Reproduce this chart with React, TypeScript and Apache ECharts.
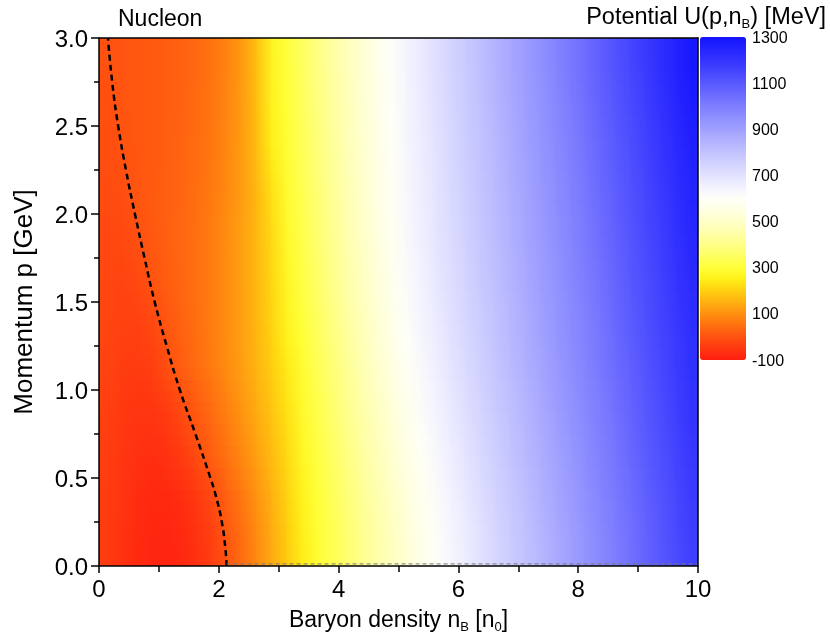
import React, { useEffect, useRef } from 'react';
import * as echarts from 'echarts';

// Cell centres of the potential map (baryon density in n0, momentum in GeV)
const nCenters = [
  0.125, 0.375, 0.625, 0.875, 1.125, 1.375, 1.625, 1.875, 2.125, 2.375,
  2.625, 2.875, 3.125, 3.375, 3.625, 3.875, 4.125, 4.375, 4.625, 4.875,
  5.125, 5.375, 5.625, 5.875, 6.125, 6.375, 6.625, 6.875, 7.125, 7.375,
  7.625, 7.875, 8.125, 8.375, 8.625, 8.875, 9.125, 9.375, 9.625, 9.875,
];
const pCenters = [0.125, 0.375, 0.625, 0.875, 1.125, 1.375, 1.625, 1.875, 2.125, 2.375, 2.625, 2.875];
const nRange = [0, 10];
const pRange = [0, 3];

// Potential U(p, nB) in MeV, one row per momentum (p ascending)
const uP0125 = [-45, -62, -76, -85, -87, -80, -64, -38, 5, 45, 90, 140, 192, 245, 291, 330, 368, 407, 446, 485, 524, 563, 602, 636, 669, 703, 736, 770, 803, 836, 870, 903, 937, 970, 1003, 1037, 1070, 1103, 1137, 1170];
const uP0375 = [-42, -58, -72, -80, -80, -72, -52, -18, 22, 60, 103, 150, 202, 255, 298, 337, 377, 416, 456, 495, 535, 574, 613, 647, 680, 713, 747, 780, 813, 847, 880, 913, 947, 980, 1013, 1047, 1080, 1113, 1147, 1180];
const uP0625 = [-40, -55, -65, -70, -64, -45, -14, 20, 52, 86, 124, 167, 212, 268, 309, 350, 390, 431, 472, 512, 553, 593, 629, 662, 695, 728, 761, 794, 827, 860, 893, 926, 959, 992, 1025, 1058, 1091, 1124, 1157, 1190];
const uP0875 = [-35, -48, -56, -56, -46, -16, 12, 42, 74, 106, 142, 182, 225, 279, 320, 362, 404, 446, 487, 529, 571, 612, 645, 677, 710, 743, 775, 808, 841, 873, 906, 939, 971, 1004, 1037, 1069, 1102, 1135, 1167, 1200];
const uP1125 = [-30, -41, -45, -38, -8, 18, 42, 66, 93, 122, 157, 196, 240, 289, 332, 375, 417, 460, 503, 546, 588, 626, 659, 691, 724, 756, 789, 821, 853, 886, 918, 951, 983, 1016, 1048, 1080, 1113, 1145, 1178, 1210];
const uP1375 = [-25, -33, -35, -22, 5, 28, 48, 70, 95, 124, 160, 205, 260, 302, 345, 389, 432, 476, 519, 562, 606, 639, 671, 704, 736, 768, 800, 833, 865, 897, 930, 962, 994, 1026, 1059, 1091, 1123, 1156, 1188, 1220];
const uP1625 = [-22, -28, -20, 1, 18, 33, 50, 70, 95, 125, 162, 210, 269, 313, 356, 400, 444, 487, 531, 574, 616, 648, 681, 713, 745, 778, 810, 842, 874, 907, 939, 971, 1004, 1036, 1068, 1101, 1133, 1165, 1198, 1230];
const uP1875 = [-18, -21, -4, 10, 22, 35, 50, 70, 95, 125, 162, 215, 278, 322, 366, 409, 453, 497, 541, 584, 624, 656, 689, 721, 754, 786, 819, 851, 883, 916, 948, 981, 1013, 1045, 1078, 1110, 1143, 1175, 1208, 1240];
const uP2125 = [-14, -8, 4, 13, 22, 33, 47, 66, 90, 120, 160, 225, 287, 330, 374, 418, 461, 505, 549, 592, 629, 662, 694, 727, 760, 792, 825, 858, 890, 923, 956, 988, 1021, 1054, 1086, 1119, 1152, 1184, 1217, 1250];
const uP2375 = [-10, -1, 6, 13, 20, 30, 43, 62, 86, 118, 170, 248, 293, 337, 380, 423, 467, 510, 553, 597, 633, 666, 699, 732, 765, 798, 831, 865, 898, 931, 964, 997, 1030, 1063, 1096, 1130, 1163, 1196, 1229, 1262];
const uP2625 = [-7, 3, 8, 13, 19, 27, 40, 58, 83, 118, 172, 258, 300, 343, 386, 429, 473, 516, 559, 602, 638, 671, 705, 738, 772, 805, 839, 873, 906, 940, 973, 1007, 1040, 1074, 1107, 1141, 1174, 1208, 1241, 1275];
const uP2875 = [-2, 5, 9, 13, 18, 26, 38, 56, 80, 115, 175, 262, 305, 348, 391, 434, 477, 520, 563, 606, 641, 675, 709, 743, 777, 811, 845, 879, 913, 947, 982, 1016, 1050, 1084, 1118, 1152, 1186, 1220, 1254, 1288];
const potentialRows = [uP0125, uP0375, uP0625, uP0875, uP1125, uP1375, uP1625, uP1875, uP2125, uP2375, uP2625, uP2875];

// U = 0 contour (dashed line)
const contourN = [2.13, 2.11, 2.05, 1.95, 1.86, 1.61, 1.35, 1.13, 0.93, 0.76, 0.6, 0.45, 0.32, 0.22, 0.15];
const contourP = [0.0, 0.1, 0.25, 0.4, 0.5, 0.75, 1.0, 1.25, 1.5, 1.75, 2.0, 2.25, 2.5, 2.75, 3.0];
const edgeN = [2.13, 10];
const edgeP = [0.012, 0.012];

// Colour scale from -100 to 1300 MeV in 50 MeV steps
const colorScale = [
  '#ff1e10', '#ff3810', '#ff5210', '#ff7010', '#ff9010', '#ffb010', '#ffd010', '#fff018',
  '#ffff38', '#ffff60', '#ffff88', '#ffffaa', '#ffffc8', '#ffffe2', '#fffff8', '#f2f2ff',
  '#e2e2ff', '#d2d2ff', '#c2c2ff', '#b1b1ff', '#a0a0ff', '#8f8fff', '#7e7eff', '#6b6bff',
  '#5858ff', '#4646ff', '#3434ff', '#2424ff', '#1414ff',
];
const colorMin = -100;
const colorMax = 1300;
const colorStep = 200;

const FONT = '"Liberation Sans", Arial, Helvetica, sans-serif';
const SUB_STRIPS = 4;

export default function App() {
  const ref = useRef<HTMLDivElement>(null);
  useEffect(() => {
    document.body.style.margin = '0';
    const chart = echarts.init(ref.current!, undefined, { renderer: 'svg' });
    const nCols = nCenters.length;
    const nRows = pCenters.length;
    const val = (i: number, j: number) =>
      potentialRows[Math.max(0, Math.min(nRows - 1, j))][Math.max(0, Math.min(nCols - 1, i))];
    const colorOf = (v: number) =>
      echarts.color.lerp(Math.max(0, Math.min(1, (v - colorMin) / (colorMax - colorMin))), colorScale) as string;

    // one item per patch between neighbouring cell centres
    const patches: number[][] = [];
    for (let j = 0; j <= nRows; j++) for (let i = 0; i <= nCols; i++) patches.push([i, j, val(i, j)]);

    const renderItem = (params: any, api: any) => {
      const i = api.value(0);
      const j = api.value(1);
      const n0 = i === 0 ? nRange[0] : nCenters[i - 1];
      const n1 = i === nCols ? nRange[1] : nCenters[i];
      const p0 = j === 0 ? pRange[0] : pCenters[j - 1];
      const p1 = j === nRows ? pRange[1] : pCenters[j];
      const lb = val(i - 1, j - 1), rb = val(i, j - 1), lt = val(i - 1, j), rt = val(i, j);
      const a = api.coord([n0, p1]);
      const b = api.coord([n1, p0]);
      const x = Math.floor(a[0]);
      const w = Math.ceil(b[0]) - x + 1;
      const top = a[1];
      const bottom = b[1];
      const strips = j === 0 || j === nRows ? 1 : SUB_STRIPS;
      const children: any[] = [];
      for (let k = 0; k < strips; k++) {
        const t = (k + 0.5) / strips; // 0 at bottom row, 1 at top row
        const yTop = bottom + (top - bottom) * ((k + 1) / strips);
        const yBot = bottom + (top - bottom) * (k / strips);
        const cl = colorOf(lb + (lt - lb) * t);
        const cr = colorOf(rb + (rt - rb) * t);
        const y = Math.floor(yTop);
        children.push({
          type: 'rect',
          shape: { x, y, width: w, height: Math.ceil(yBot) - y + 1 },
          style: {
            fill: new echarts.graphic.LinearGradient(0, 0, 1, 0, [
              { offset: 0, color: cl },
              { offset: 1, color: cr },
            ]),
          },
          silent: true,
        });
      }
      return { type: 'group', children };
    };

    const G = { left: 99, top: 38, width: 599, height: 528 };
    const axisLineStyle = { color: '#000', width: 1.5 };
    const subRich = { s: { fontSize: 13, fontFamily: FONT, color: '#000', verticalAlign: 'bottom', lineHeight: 14 } };
    chart.setOption({
      animation: false,
      textStyle: { fontFamily: FONT },
      grid: [
        { ...G },
        { left: 700, top: 37, width: 46, height: 323 },
      ],
      xAxis: [
        {
          type: 'value', gridIndex: 0, min: nRange[0], max: nRange[1], interval: 2, position: 'bottom', z: 10,
          axisLine: { show: true, onZero: false, lineStyle: axisLineStyle },
          axisTick: { show: true, length: 7, lineStyle: axisLineStyle },
          minorTick: { show: true, splitNumber: 2, length: 6, lineStyle: axisLineStyle },
          axisLabel: { fontSize: 24, color: '#000', margin: 10, fontFamily: FONT },
          splitLine: { show: false },
          name: 'Baryon density n{s|B} [n{s|0}]', nameLocation: 'middle', nameGap: 37,
          nameTextStyle: { fontSize: 23, color: '#000', fontFamily: FONT, lineHeight: 28, rich: subRich },
        },
        {
          type: 'value', gridIndex: 0, min: nRange[0], max: nRange[1], position: 'top', z: 10,
          axisLine: { show: true, onZero: false, lineStyle: axisLineStyle },
          axisTick: { show: false }, axisLabel: { show: false }, splitLine: { show: false },
        },
        { type: 'value', gridIndex: 1, min: 0, max: 1, show: false },
      ],
      yAxis: [
        {
          type: 'value', gridIndex: 0, min: pRange[0], max: pRange[1], interval: 0.5, position: 'left', z: 10,
          axisLine: { show: true, onZero: false, lineStyle: axisLineStyle },
          axisTick: { show: true, length: 8, lineStyle: axisLineStyle },
          minorTick: { show: true, splitNumber: 2, length: 5, lineStyle: axisLineStyle },
          axisLabel: { fontSize: 24, color: '#000', margin: 11, fontFamily: FONT, formatter: (v: number) => v.toFixed(1) },
          splitLine: { show: false },
          name: 'Momentum p [GeV]', nameLocation: 'middle', nameGap: 63,
          nameTextStyle: { fontSize: 26, color: '#000', fontFamily: FONT },
        },
        {
          type: 'value', gridIndex: 0, min: pRange[0], max: pRange[1], position: 'right', z: 10,
          axisLine: { show: true, onZero: false, lineStyle: axisLineStyle },
          axisTick: { show: false }, axisLabel: { show: false }, splitLine: { show: false },
        },
        {
          type: 'value', gridIndex: 1, min: colorMin, max: colorMax, interval: colorStep, position: 'right',
          axisLine: { show: false }, axisTick: { show: false }, splitLine: { show: false },
          axisLabel: { fontSize: 16, color: '#000', margin: 6, fontFamily: FONT, formatter: (v: number) => String(v) },
        },
      ],
      visualMap: {
        type: 'continuous', seriesIndex: 0, dimension: 2, min: colorMin, max: colorMax,
        left: 700, top: 37, itemWidth: 46, itemHeight: 323, padding: 0,
        calculable: false, hoverLink: false,
        inRange: { color: colorScale },
      },
      graphic: [
        { type: 'text', left: 118, top: 6, style: { text: 'Nucleon', fontSize: 23, fontFamily: FONT, fill: '#000' } },
        {
          type: 'text', right: 4, top: 2,
          style: { text: 'Potential U(p,n{s|B}) [MeV]', fontSize: 23.5, fontFamily: FONT, fill: '#000', lineHeight: 28, rich: subRich },
        },
      ],
      series: [
        {
          type: 'custom', xAxisIndex: 0, yAxisIndex: 0, data: patches, renderItem, silent: true,
          clip: true, z: 1,
        },
        {
          type: 'line', xAxisIndex: 0, yAxisIndex: 0, data: contourN.map((n, i) => [n, contourP[i]]),
          smooth: true, symbol: 'none', z: 5, silent: true,
          lineStyle: { color: '#000', width: 2.5, type: [6, 4] },
        },
        {
          type: 'line', xAxisIndex: 0, yAxisIndex: 0, data: edgeN.map((n, i) => [n, edgeP[i]]),
          symbol: 'none', z: 5, silent: true,
          lineStyle: { color: '#777', width: 1, type: [4, 3] },
        },
      ],
    });
    return () => chart.dispose();
  }, []);
  return <div ref={ref} style={{ position: 'fixed', left: 0, top: 0, width: 830, height: 642 }} />;
}
